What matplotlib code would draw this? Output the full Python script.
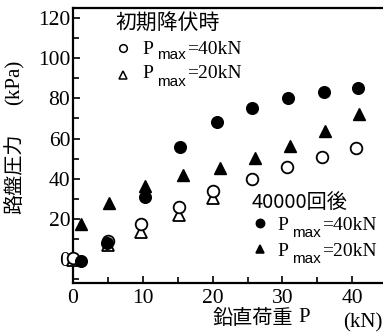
import matplotlib
matplotlib.use("Agg")
import matplotlib.pyplot as plt
from matplotlib.lines import Line2D
from matplotlib.ticker import MultipleLocator

# ---- data ----
init40_x = [0, 5, 9.8, 15.2, 20.1, 25.6, 30.7, 35.7, 40.5]
init40_y = [0.3, 9, 17.3, 25.7, 34, 39.7, 45.7, 50.6, 55.1]
init20_x = [0, 5, 9.8, 15.2, 20.1]
init20_y = [-0.5, 7, 13.6, 21.9, 30.4]
after40_x = [1.2, 4.9, 10.3, 15.4, 20.6, 25.7, 30.8, 35.9, 40.8]
after40_y = [-0.8, 8.1, 31.0, 55.6, 68.4, 75.3, 80.3, 83.3, 85.0]
after20_x = [1.2, 5.1, 10.3, 15.8, 21.1, 26.1, 31.1, 36.1, 41.0]
after20_y = [17.3, 27.7, 36.4, 41.8, 45.2, 50.1, 56.3, 63.7, 72.1]
xticks = [0, 10, 20, 30, 40]
yticks = [0, 20, 40, 60, 80, 100, 120]

W, H = 383, 334
SERIF = "Liberation Serif"
SANS = "Liberation Sans"
CJK = "Noto Sans CJK JP"

fig = plt.figure(figsize=(W / 100, H / 100), dpi=100)
ax = fig.add_axes([73 / W, 1 - 283.3 / H, (W - 73) / W, (283.3 - 7.5) / H])

ax.set_xlim(0, (W - 73) / 6.98)
ax.set_ylim(-(283.3 - 259) / 2.008, (259 - 7.5) / 2.008)

ms = 8.4
ax.plot(init20_x, init20_y, linestyle="none", marker="^", ms=ms, mfc="white",
        mec="black", mew=1.3, clip_on=False, zorder=3)
ax.plot(init40_x, init40_y, linestyle="none", marker="o", ms=ms, mfc="white",
        mec="black", mew=1.3, clip_on=False, zorder=4)
ax.plot(after40_x, after40_y, linestyle="none", marker="o", ms=ms, mfc="black",
        mec="black", clip_on=False, zorder=5)
ax.plot(after20_x, after20_y, linestyle="none", marker="^", ms=ms, mfc="black",
        mec="black", clip_on=False, zorder=5)

for s in ["left", "bottom", "top"]:
    ax.spines[s].set_linewidth(1.6)
ax.spines["right"].set_visible(False)

ax.set_xticks(xticks)
ax.set_yticks(yticks)
ax.xaxis.set_minor_locator(MultipleLocator(5))
ax.yaxis.set_minor_locator(MultipleLocator(10))
ax.tick_params(which="both", direction="in", top=False, right=False, width=1.2)
ax.tick_params(which="major", length=5)
ax.tick_params(which="minor", length=4)
ax.tick_params(axis="y", pad=2)
ax.tick_params(axis="x", pad=4)
for lab in ax.get_xticklabels() + ax.get_yticklabels():
    lab.set_fontfamily(SERIF)
    lab.set_fontsize(15.5)


def fx(px):
    return px / W


def fy(py):
    return 1 - py / H


# axis labels
fig.text(fx(15), fy(174), "路盤圧力", rotation=90, family=CJK, fontsize=14.5,
         ha="center", va="center")
fig.text(fx(15), fy(82), "(kPa)", rotation=90, family=SERIF, fontsize=15,
         ha="center", va="center")
fig.text(fx(213), fy(319), "鉛直荷重", family=CJK, fontsize=14.5,
         ha="left", va="center")
fig.text(fx(298), fy(318), "P", family=SERIF, fontsize=15,
         ha="left", va="center")
fig.text(fx(343), fy(323), "(kN)", family=SERIF, fontsize=15,
         ha="left", va="center")


def legend_entry(mx, my, marker, filled, px, text_y, sub_y, tail, size):
    fig.add_artist(Line2D([fx(mx)], [fy(my)], transform=fig.transFigure,
                          marker=marker, ms=size, mfc="black" if filled else "white",
                          mec="black", mew=1.1, linestyle="none"))
    fig.text(fx(px), fy(text_y), "P", family=SERIF, fontsize=14,
             ha="left", va="center")
    fig.text(fx(px + 15), fy(sub_y), "max", family=SANS, fontsize=11,
             ha="left", va="center")
    fig.text(fx(px + 45), fy(text_y), tail, family=SERIF, fontsize=14,
             ha="left", va="center")


fig.text(fx(115), fy(23.5), "初期降伏時", family=CJK, fontsize=15,
         ha="left", va="center")
legend_entry(123, 48, "o", False, 142, 49, 55, "=40kN", 5.5)
legend_entry(123, 75, "^", False, 142, 74, 82, "=20kN", 5.5)

fig.text(fx(252), fy(203), "40000回後", family=CJK, fontsize=14.5,
         ha="left", va="center")
legend_entry(260, 223, "o", True, 277, 225, 233, "=40kN", 6)
legend_entry(260, 249, "^", True, 277, 251, 259, "=20kN", 6)

fig.savefig("out.png", dpi=100)
